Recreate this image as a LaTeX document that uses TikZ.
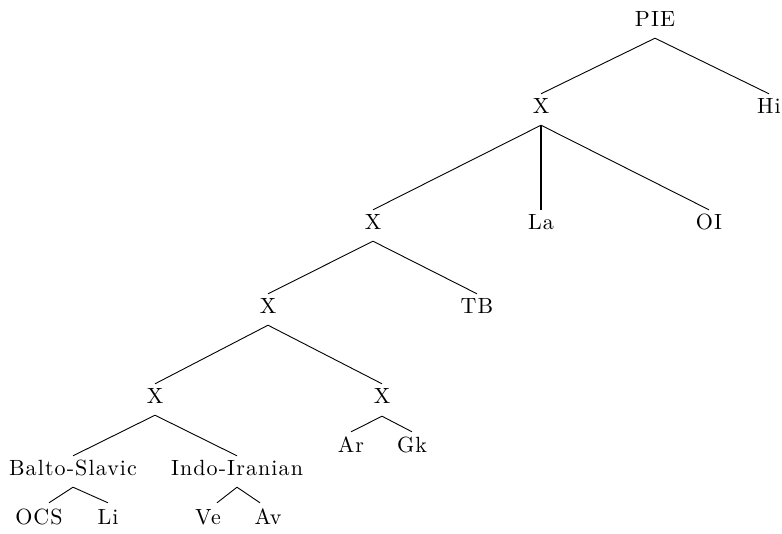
\documentclass[tikz,border=0pt]{standalone}
\usepackage{fontspec}
\setmainfont{lmroman10-regular}[Extension=.otf, LetterSpace=5]
\begin{document}
\begin{tikzpicture}[x=1pt, y=-1pt,
  lab/.style={inner sep=0pt, text height=14pt, text depth=0pt, anchor=base,
              font=\fontsize{22}{26}\selectfont},
  branch/.style={line width=0.9pt},
  heavy/.style={line width=2.8pt}]
\useasboundingbox (0,0) rectangle (782,533);

% labels (positioned on their baselines)
\node[lab] (pie) at (655,26) {PIE};
\node[lab] (x1)  at (541,113) {X};
\node[lab] (hi)  at (769,113) {Hi};
\node[lab] (x2)  at (373,229) {X};
\node[lab] (la)  at (541,229) {La};
\node[lab] (oi)  at (709,229) {OI};
\node[lab] (x3)  at (268,313) {X};
\node[lab] (tb)  at (477,313) {TB};
\node[lab] (x4)  at (155,403) {X};
\node[lab] (x5)  at (382,403) {X};
\node[lab] (ar)  at (351,452) {Ar};
\node[lab] (gk)  at (412,452) {Gk};
\node[lab] (bs)  at (73,475)  {Balto-Slavic};
\node[lab] (ii)  at (237,475) {Indo-Iranian};
\node[lab] (ocs) at (39,524)  {OCS};
\node[lab] (li)  at (108,524) {Li};
\node[lab] (ve)  at (208,524) {Ve};
\node[lab] (av)  at (268,524) {Av};

% branches: from below the mother label to just above the daughter label
\newcommand{\brn}[3][branch]{\draw[#1] ([yshift=-12pt]#2.south) -- ([yshift=5pt]#3.north);}
\brn{pie}{x1}
\brn{pie}{hi}
\brn{x1}{x2}
\brn[heavy]{x1}{la}
\brn{x1}{oi}
\brn{x2}{x3}
\brn{x2}{tb}
\brn{x3}{x4}
\brn{x3}{x5}
\brn{x4}{bs}
\brn{x4}{ii}
\draw[branch] ([yshift=-13pt]x5.south) -- ([yshift=6pt]ar.north);
\draw[branch] ([yshift=-13pt]x5.south) -- ([yshift=6pt]gk.north);
\draw[branch] ([yshift=-12pt]bs.south) -- ([xshift=10pt,yshift=7pt]ocs.north);
\draw[branch] ([yshift=-12pt]bs.south) -- ([yshift=7pt]li.north);
\draw[branch] ([yshift=-12pt]ii.south) -- ([xshift=9pt,yshift=7pt]ve.north);
\draw[branch] ([yshift=-12pt]ii.south) -- ([xshift=-8pt,yshift=7pt]av.north);
\end{tikzpicture}
\end{document}
